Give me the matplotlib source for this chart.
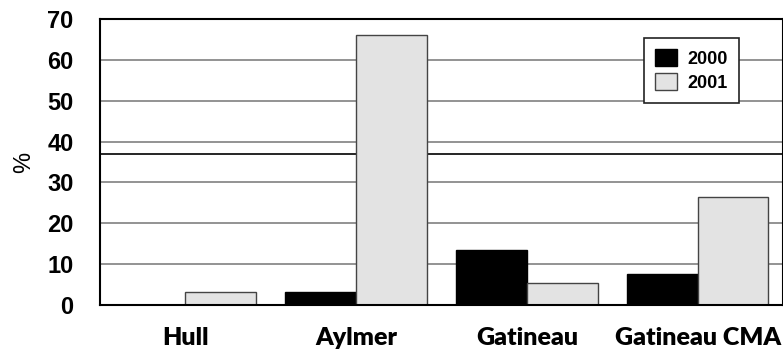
import matplotlib
matplotlib.use("Agg")
import matplotlib.pyplot as plt
import numpy as np

categories = ["Hull", "Aylmer", "Gatineau", "Gatineau CMA"]
series_names = ["2000", "2001"]
values_2000 = [0.0, 3.1, 13.4, 7.6]
values_2001 = [3.2, 66.0, 5.5, 26.4]
yticks = [0, 10, 20, 30, 40, 50, 60, 70]
extra_line = 36.9

fig = plt.figure(figsize=(7.83, 3.49), dpi=100)
ax = fig.add_axes([100/783, 44/349, 683/783, 286/349])

x = np.arange(len(categories))
w = 0.415
ax.set_axisbelow(True)
for yv in yticks[1:-1]:
    ax.axhline(yv, color="#808080", lw=1.2, zorder=0)
ax.axhline(extra_line, color="black", lw=1.2, zorder=0)

ax.bar(x - w/2, values_2000, w, color="black", edgecolor="black", lw=1, label=series_names[0], zorder=2)
ax.bar(x + w/2, values_2001, w, color="#e3e3e3", edgecolor="#444444", lw=1, label=series_names[1], zorder=2)

ax.set_xlim(-0.5, 3.5)
ax.set_ylim(0, 70)
ax.set_yticks(yticks)
ax.set_yticklabels([str(v) for v in yticks], fontsize=17, fontweight="bold", family="Liberation Sans")
ax.set_xticks(x)
ax.set_xticklabels(categories, fontsize=18, fontweight="heavy", family="Lato")
ax.tick_params(axis="y", length=0, pad=19)
ax.tick_params(axis="x", length=0, pad=16)
ax.set_ylabel("%", fontsize=17, family="Liberation Sans", labelpad=9)
for s in ax.spines.values():
    s.set_linewidth(1.5)
    s.set_color("black")

leg = ax.legend(loc="upper left", bbox_to_anchor=((644-100)/683, (305-38)/286),
                borderaxespad=0,
                prop={"family": "Liberation Sans", "weight": "bold", "size": 13},
                frameon=True, fancybox=False, edgecolor="#222222", framealpha=1,
                handlelength=1.2, handleheight=1.1, borderpad=0.6, labelspacing=0.3, handletextpad=0.6)
leg.get_frame().set_linewidth(1.2)

fig.savefig("out.png", dpi=100)
